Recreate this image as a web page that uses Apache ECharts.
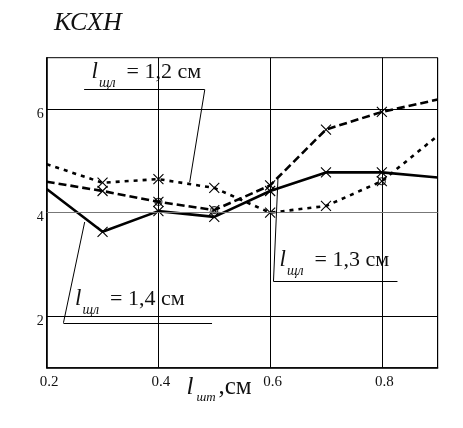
<!DOCTYPE html>
<html lang="ru">
<head>
<meta charset="UTF-8">
<title>КСХН</title>
<script src="https://cdn.jsdelivr.net/npm/echarts@6/dist/echarts.min.js"></script>
<style>
    html, body { margin: 0; padding: 0; background: #fff; overflow: hidden; }
    #chart { width: 463px; height: 428px; }
</style>
</head>
<body>
<div id="chart"></div>
<script>
    // l_шт, см
    var lengths = [0.2, 0.3, 0.4, 0.5, 0.6, 0.7, 0.8, 0.9];
    // КСХН for l_щл = 1,2 / 1,3 / 1,4 см
    var ksxn12 = [4.94, 4.58, 4.65, 4.48, 4.00, 4.13, 4.61, 5.49];
    var ksxn13 = [4.60, 4.42, 4.21, 4.05, 4.53, 5.61, 5.95, 6.19];
    var ksxn14 = [4.46, 3.63, 4.03, 3.92, 4.42, 4.78, 4.78, 4.68];
    var yTicks = [2, 4, 6];
    var noteValues = ['1,2', '1,3', '1,4'];
    // small circles that sit next to some crosses: [curve, point]
    var circled = [[1, 2], [1, 3], [0, 6]];

    var SERIF = '"Liberation Serif", "DejaVu Serif", serif';
    var CROSS = 'path://M0,0L10,10M10,0L0,10';
    var curves = [ksxn12, ksxn13, ksxn14];

    // leader lines of the notes, in data units; fromEnd: leader starts at right end of underline
    var notes = [
        { x1: 0.267, x2: 0.483, y: 6.38, to: [0.456, 4.59], fromEnd: true, tx: 91.5, base: 80 },
        { x1: 0.606, x2: 0.828, y: 2.67, to: [0.614, 4.65], fromEnd: false, tx: 279.5, base: 268 },
        { x1: 0.230, x2: 0.496, y: 1.87, to: [0.268, 3.82], fromEnd: false, tx: 75, base: 307 }
    ];

    function pts(vals) {
        return vals.map(function (v, i) {
            var p = { value: [lengths[i], v] };
            // ends of the curves carry no cross
            if (i === 0 || i === vals.length - 1) p.symbol = 'none';
            return p;
        });
    }

    function curve(name, vals, dash) {
        return {
            name: name,
            type: 'line',
            data: pts(vals),
            symbol: CROSS,
            symbolSize: 10,
            showAllSymbol: true,
            itemStyle: { color: 'none', borderColor: '#000', borderWidth: 1.1 },
            lineStyle: { color: '#000', width: 2.6, type: dash },
            emphasis: { disabled: true },
            z: 3
        };
    }

    var markData = yTicks.map(function (v) {
        return v === 4 ? { yAxis: v, lineStyle: { color: '#777' } } : { yAxis: v };
    });
    notes.forEach(function (n) {
        markData.push([{ coord: [n.x1, n.y] }, { coord: [n.x2, n.y] }]);
        markData.push([{ coord: [n.fromEnd ? n.x2 : n.x1, n.y] }, { coord: n.to }]);
    });

    // baseline -> 'middle' y for Liberation Serif
    function mid(base, size) { return base - 0.34 * size; }
    function txt(x, base, text, size, italic) {
        return {
            type: 'text',
            x: x,
            y: mid(base, size),
            silent: true,
            style: {
                text: text,
                font: (italic ? 'italic ' : '') + size + 'px ' + SERIF,
                fill: '#111',
                align: 'left',
                verticalAlign: 'middle'
            }
        };
    }

    var graphics = [
        txt(54, 32.5, 'КСХН', 26, true),
        txt(186.5, 396, 'l', 25, true),
        txt(196.5, 402, 'шт', 13, true),
        txt(218.5, 396, ',см', 25, false)
    ];
    notes.forEach(function (n, i) {
        graphics.push(txt(n.tx, n.base, 'l', 23, true));
        graphics.push(txt(n.tx + 7.5, n.base + 8, 'щл', 14, true));
        graphics.push(txt(n.tx + 35, n.base, '= ' + noteValues[i] + ' см', 22, false));
    });

    var myChart = echarts.init(document.getElementById('chart'));
    var option = {
        animation: false,
        backgroundColor: '#fff',
        grid: {
            left: 46.7, right: 25.3, top: 57.7, bottom: 60.3,
            show: true, borderColor: '#000', borderWidth: 1, backgroundColor: 'transparent'
        },
        xAxis: {
            type: 'value',
            min: 0.2, max: 0.9, interval: 0.2,
            axisLine: { lineStyle: { color: '#000', width: 1.5 } },
            axisTick: { show: false },
            splitLine: { show: true, lineStyle: { color: '#000', width: 1 } },
            axisLabel: {
                showMaxLabel: false,
                color: '#111', fontFamily: SERIF, fontSize: 15, margin: 7,
                padding: [0, 0, 0, 5],
                formatter: function (v) { return v.toFixed(1); }
            }
        },
        yAxis: {
            type: 'value',
            min: 1, max: 7, interval: 1,
            axisLine: { show: true, lineStyle: { color: '#000', width: 1.5 } },
            axisTick: { show: false },
            splitLine: { show: false },
            axisLabel: {
                color: '#111', fontFamily: SERIF, fontSize: 14, margin: 3,
                verticalAlign: 'top', lineHeight: 10,
                formatter: function (v) { return yTicks.indexOf(v) >= 0 ? String(v) : ''; }
            }
        },
        graphic: graphics,
        series: [
            curve('1,2', ksxn12, [4, 5]),
            curve('1,3', ksxn13, [8, 4]),
            curve('1,4', ksxn14, 'solid'),
            {
                type: 'scatter',
                data: circled.map(function (c) { return [lengths[c[1]], curves[c[0]][c[1]]]; }),
                symbol: 'circle',
                symbolSize: 7,
                itemStyle: { color: 'none', borderColor: '#000', borderWidth: 1.1 },
                z: 4
            },
            {
                type: 'line',
                data: [],
                markLine: {
                    silent: true,
                    animation: false,
                    symbol: 'none',
                    label: { show: false },
                    lineStyle: { color: '#000', width: 1, type: 'solid' },
                    data: markData
                }
            }
        ]
    };
    myChart.setOption(option, true);
</script>
</body>
</html>
